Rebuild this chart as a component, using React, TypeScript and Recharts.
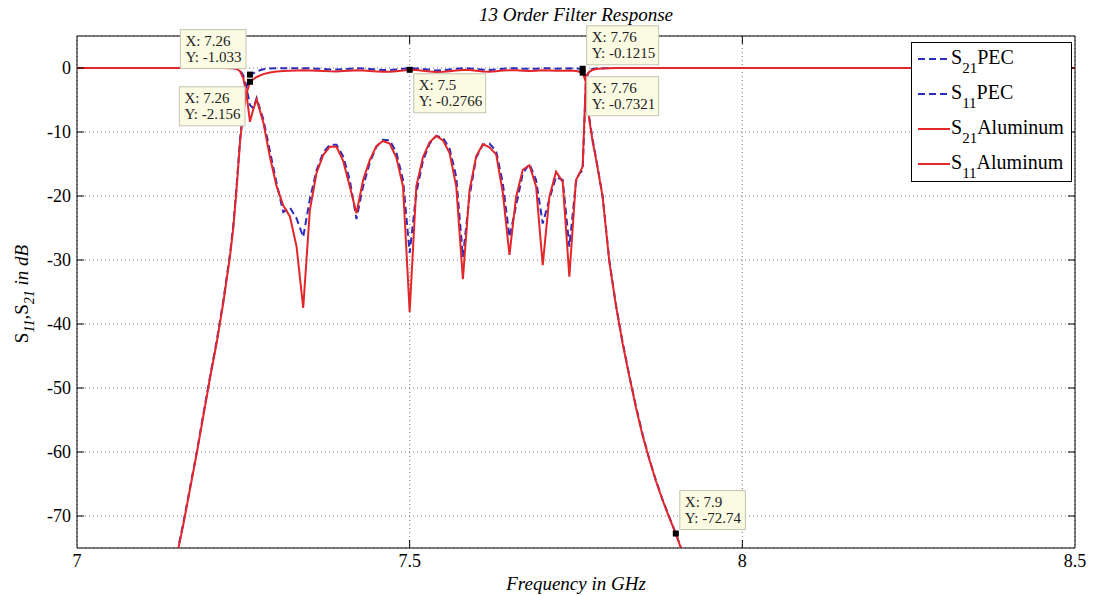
import React from 'react';
import {
  LineChart,
  Line,
  XAxis,
  YAxis,
  CartesianGrid,
  ReferenceArea,
  ReferenceDot,
  ReferenceLine,
  Legend,
} from 'recharts';

const FONT = "'Liberation Serif', 'Times New Roman', serif";
const BLUE = '#2c2cbc';
const RED = '#e3262a';

// frequency in GHz
const freq = [
  7.0, 7.05, 7.1, 7.14, 7.15, 7.16, 7.17, 7.18, 7.19, 7.2, 7.21, 7.22, 7.23, 7.235, 7.24, 7.245, 7.25, 7.255, 7.26, 7.265,
  7.27, 7.28, 7.29, 7.3, 7.31, 7.32, 7.33, 7.34, 7.35, 7.36, 7.37, 7.38, 7.39, 7.4, 7.41, 7.42, 7.43, 7.44, 7.45, 7.46,
  7.47, 7.48, 7.49, 7.5, 7.51, 7.52, 7.53, 7.54, 7.55, 7.56, 7.57, 7.58, 7.59, 7.6, 7.61, 7.62, 7.63, 7.64, 7.65, 7.66,
  7.67, 7.68, 7.69, 7.7, 7.71, 7.72, 7.73, 7.74, 7.75, 7.755, 7.76, 7.765, 7.77, 7.775, 7.78, 7.79, 7.8, 7.81, 7.82, 7.83,
  7.84, 7.85, 7.86, 7.87, 7.88, 7.89, 7.9, 7.91, 7.92, 7.95, 8.0, 8.5,
];

const s21Pec = [
  null, null, null, -81, -76, -71, -65.5, -60, -54, -48.2, -42.6, -36.3, -29, -24.5, -18.3, -11.2, -6.2, -2.9, -1.033, -0.85,
  -0.5, -0.2, -0.08, -0.05, -0.04, -0.05, -0.04, -0.03, -0.05, -0.1, -0.16, -0.22, -0.23, -0.17, -0.1, -0.05, -0.08, -0.15, -0.24, -0.3,
  -0.3, -0.22, -0.12, -0.02, -0.06, -0.15, -0.28, -0.38, -0.36, -0.25, -0.12, -0.03, -0.06, -0.16, -0.28, -0.3, -0.22, -0.1, -0.04, -0.05,
  -0.1, -0.14, -0.1, -0.04, -0.05, -0.1, -0.09, -0.04, -0.08, -0.1, -0.1215, -1.6, -7.8, -11.2, -14, -20, -30, -37, -42.8, -48,
  -52.8, -57.2, -61, -64.4, -67.4, -70.1, -72.74, -75.6, -78.2, null, null, null,
];

const s11Pec = [
  0, 0, 0, 0, 0, 0, 0, 0, 0, 0, 0, -0.01, -0.02, -0.04, -0.1, -0.35, -1.2, -3.2, -5.8, -6.3,
  -4.7, -8, -13, -18, -22.5, -21.8, -23.5, -26.4, -20.5, -16, -13.2, -12, -12, -13.8, -17.5, -23.6, -18.5, -14.8, -12.3, -11.2,
  -11.3, -13.2, -17.5, -28.9, -19.5, -14.5, -11.8, -10.6, -10.9, -12.6, -17, -29.5, -20, -14, -12, -11.8, -13, -18, -26.4, -21.5,
  -16.5, -15, -17.5, -24.3, -20.5, -17, -17.5, -27.9, -17.8, -16.5, -16, -1.8, -0.35, -0.15, -0.06, -0.02, 0, 0, 0, 0,
  0, 0, 0, 0, 0, 0, 0, 0, 0, 0, 0, 0,
];

const s21Al = [
  null, null, null, -81, -76.3, -71.2, -65.7, -60.2, -54.3, -48.4, -42.9, -36.6, -29.4, -24.9, -18.7, -11.6, -6.8, -3.9, -2.156, -1.75,
  -1.4, -0.95, -0.7, -0.55, -0.46, -0.42, -0.4, -0.36, -0.38, -0.42, -0.47, -0.52, -0.53, -0.48, -0.42, -0.36, -0.4, -0.46, -0.53, -0.58,
  -0.58, -0.5, -0.4, -0.2766, -0.33, -0.42, -0.55, -0.62, -0.6, -0.5, -0.38, -0.3, -0.33, -0.43, -0.55, -0.57, -0.5, -0.4, -0.34, -0.36,
  -0.42, -0.46, -0.42, -0.36, -0.38, -0.44, -0.43, -0.4, -0.48, -0.58, -0.7321, -2.2, -8.1, -11.5, -14.2, -20.1, -30.2, -37.1, -43, -48.1,
  -53, -57.4, -61.1, -64.5, -67.5, -70.2, -72.74, -75.7, -78.3, null, null, null,
];

const s11Al = [
  0, 0, 0, 0, 0, 0, 0, 0, 0, 0, 0, -0.01, -0.02, -0.05, -0.15, -0.5, -1.6, -4.3, -8.4, -6.4,
  -4.9, -8.5, -13.9, -18.5, -21.5, -23.2, -27.9, -37.5, -22.2, -16.4, -13.6, -12.3, -12.3, -14.5, -18.5, -22.7, -17.5, -14.4, -12.2, -11.4,
  -11.8, -14, -18.5, -38.1, -18.5, -13.9, -11.6, -10.6, -11.3, -13.3, -18.5, -33, -19.1, -13.8, -11.9, -12.4, -13.5, -19.5, -29.2, -20.1,
  -15.9, -15.2, -18.5, -30.8, -20.1, -16.2, -17.8, -32.6, -17.5, -16.5, -15.4, -1.3, -0.6, -0.3, -0.15, -0.06, -0.02, 0, 0, 0,
  0, 0, 0, 0, 0, 0, 0, 0, 0, 0, 0, 0,
];

const xTicks = [7, 7.5, 8, 8.5];
const yTicks = [-70, -60, -50, -40, -30, -20, -10, 0];

// data tips
const tipX = [7.26, 7.26, 7.5, 7.76, 7.76, 7.9];
const tipY = [-1.033, -2.156, -0.2766, -0.1215, -0.7321, -72.74];
const tipSide = ['upLeft', 'downLeft', 'downRight', 'upRight', 'downRight', 'upRight'];

const series = [
  { key: 's21Pec', sub: '21', tag: 'PEC', color: BLUE, dash: '7 4' },
  { key: 's11Pec', sub: '11', tag: 'PEC', color: BLUE, dash: '7 4' },
  { key: 's21Al', sub: '21', tag: 'Aluminum', color: RED, dash: undefined },
  { key: 's11Al', sub: '11', tag: 'Aluminum', color: RED, dash: undefined },
];

const data = freq.map((f, i) => ({
  f,
  s21Pec: s21Pec[i],
  s11Pec: s11Pec[i],
  s21Al: s21Al[i],
  s11Al: s11Al[i],
}));

function tipShape(side: string, x: number, y: number) {
  return (props: any) => {
    const { cx, cy } = props;
    const l1 = `X: ${x}`;
    const l2 = `Y: ${y}`;
    const w = Math.max(l1.length, l2.length) * 6.4 + 8;
    const h = 39;
    let bx = cx + 4;
    let by = cy + 4;
    if (side === 'upLeft') {
      bx = cx - 4 - w;
      by = cy - 6 - h;
    } else if (side === 'downLeft') {
      bx = cx - 5 - w;
      by = cy + 5;
    } else if (side === 'upRight') {
      by = cy - 4 - h;
    }
    return (
      <g>
        <rect x={bx} y={by} width={w} height={h} fill="#fbfbe4" stroke="#c4c4b0" />
        <text x={bx + 5} y={by + 16} fontSize={15} fontFamily={FONT} fill="#222">{l1}</text>
        <text x={bx + 5} y={by + 32} fontSize={15} fontFamily={FONT} fill="#222">{l2}</text>
        <rect x={cx - 3} y={cy - 3} width={6} height={6} fill="#000" />
      </g>
    );
  };
}

const renderLegend = () => (
  <svg width={161} height={140} style={{ display: 'block' }}>
    <rect x={0.5} y={0.5} width={160} height={139} fill="#fff" stroke="#000" />
    {series.map((s, i) => {
      const cy = 17 + i * 35;
      return (
        <g key={s.key}>
          <line x1={7} x2={39} y1={cy} y2={cy} stroke={s.color} strokeWidth={2} strokeDasharray={s.dash} />
          <text x={40} y={cy + 5} fontSize={20} fontFamily={FONT} fill="#000">
            S
            <tspan fontSize={15} dy={9}>{s.sub}</tspan>
            <tspan dy={-9}>{s.tag}</tspan>
          </text>
        </g>
      );
    })}
  </svg>
);

const renderYLabel = (props: any) => {
  const vb = props.viewBox;
  const cy = vb.y + vb.height / 2 + 2;
  return (
    <text transform={`translate(28, ${cy}) rotate(-90)`} textAnchor="middle" fontSize={19} fontFamily={FONT} fill="#000">
      S
      <tspan fontSize={14} dy={6} fontStyle="italic">11</tspan>
      <tspan dy={-6}>,S</tspan>
      <tspan fontSize={14} dy={6} fontStyle="italic">21</tspan>
      <tspan dy={-6} fontStyle="italic"> in dB</tspan>
    </text>
  );
};

const renderXLabel = (props: any) => {
  const vb = props.viewBox;
  return (
    <text x={vb.x + vb.width / 2} y={590} textAnchor="middle" fontSize={19} fontStyle="italic" fontFamily={FONT} fill="#000">
      Frequency in GHz
    </text>
  );
};

export default function App() {
  const tickStyle = { fontSize: 18, fontFamily: FONT, fill: '#000' };
  return (
    <div style={{ position: 'absolute', left: 0, top: 0, width: 1098, height: 596, background: '#fff' }}>
      <div
        style={{
          position: 'absolute',
          left: 77,
          top: 3,
          width: 998,
          textAlign: 'center',
          fontFamily: FONT,
          fontStyle: 'italic',
          fontSize: 19,
          lineHeight: '24px',
          zIndex: 2,
        }}
      >
        13 Order Filter Response
      </div>
      <LineChart width={1098} height={596} data={data} margin={{ top: 36, right: 23, bottom: 0, left: 0 }}>
        <CartesianGrid stroke="#777" strokeDasharray="1 3" />
        <XAxis
          dataKey="f"
          type="number"
          domain={[7, 8.5]}
          ticks={xTicks}
          interval={0}
          height={48}
          axisLine={false}
          tickLine={false}
          tickSize={6}
          tickMargin={0}
          tick={tickStyle}
          label={renderXLabel}
        />
        <YAxis
          type="number"
          domain={[-75, 5]}
          ticks={yTicks}
          interval={0}
          allowDataOverflow
          width={77}
          axisLine={false}
          tickLine={false}
          tickSize={6}
          tickMargin={0}
          tick={tickStyle}
          label={renderYLabel}
        />
        {series.map((s) => (
          <Line
            key={s.key}
            dataKey={s.key}
            type="linear"
            stroke={s.color}
            strokeWidth={2}
            strokeDasharray={s.dash}
            dot={false}
            activeDot={false}
            isAnimationActive={false}
          />
        ))}
        {xTicks.slice(1, -1).map((t) => (
          <ReferenceLine key={`xb${t}`} segment={[{ x: t, y: -75 }, { x: t, y: -73.75 }]} stroke="#000" />
        ))}
        {xTicks.slice(1, -1).map((t) => (
          <ReferenceLine key={`xt${t}`} segment={[{ x: t, y: 5 }, { x: t, y: 3.75 }]} stroke="#000" />
        ))}
        {yTicks.map((t) => (
          <ReferenceLine key={`yl${t}`} segment={[{ x: 7, y: t }, { x: 7.0105, y: t }]} stroke="#000" />
        ))}
        {yTicks.map((t) => (
          <ReferenceLine key={`yr${t}`} segment={[{ x: 8.4895, y: t }, { x: 8.5, y: t }]} stroke="#000" />
        ))}
        <ReferenceArea x1={7} x2={8.5} y1={-75} y2={5} fill="none" stroke="#000" strokeWidth={1} />
        {tipX.map((x, i) => (
          <ReferenceDot key={`tip${i}`} x={x} y={tipY[i]} r={3} shape={tipShape(tipSide[i], x, tipY[i])} />
        ))}
        <Legend
          layout="vertical"
          align="center"
          verticalAlign="middle"
          wrapperStyle={{ left: 911, top: 42, width: 161, height: 140 }}
          content={renderLegend}
        />
      </LineChart>
    </div>
  );
}
